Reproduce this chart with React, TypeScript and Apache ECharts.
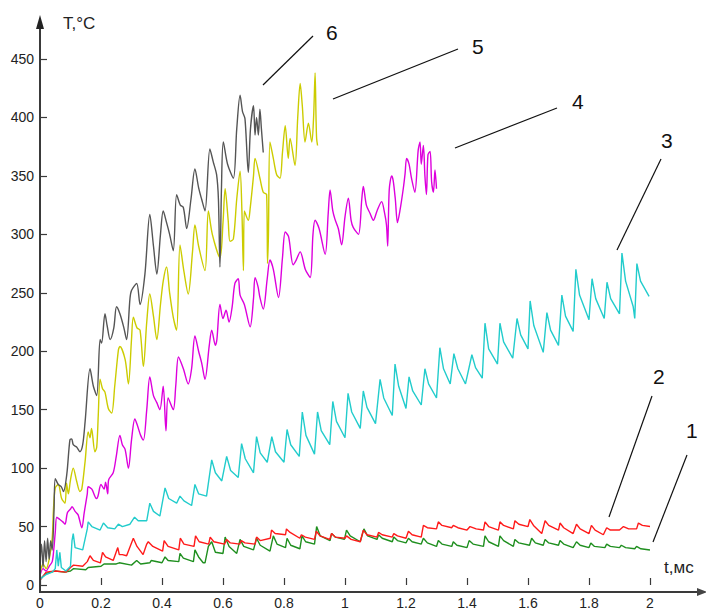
import React, { useEffect, useRef } from "react";
import * as echarts from "echarts";

// t (ms), T (°C)
const curve1Green: number[][] = [
  [0, 5], [0.02, 10], [0.05, 12], [0.08, 11], [0.1, 12], [0.11, 14], [0.15, 13], [0.158, 15], [0.2, 16], [0.21, 18],
  [0.25, 18], [0.26, 19], [0.3, 17], [0.317, 21], [0.33, 18], [0.36, 19], [0.365, 21], [0.4, 19], [0.41, 24], [0.42, 21], [0.455, 20],
  [0.459, 27], [0.47, 23], [0.503, 20],
  [0.508, 30], [0.52, 24], [0.535, 19], [0.541, 19],
  [0.552, 33], [0.563, 37], [0.575, 28], [0.6, 27],
  [0.607, 41], [0.62, 33], [0.645, 27],
  [0.656, 39], [0.668, 33], [0.7, 30],
  [0.71, 40], [0.722, 34], [0.754, 29],
  [0.765, 42], [0.777, 35], [0.805, 32],
  [0.81, 40], [0.822, 34], [0.852, 31],
  [0.859, 42], [0.871, 37], [0.9, 35],
  [0.907, 50], [0.919, 42], [0.951, 38],
  [0.956, 44], [0.968, 41], [0.998, 39],
  [1.005, 47], [1.017, 42], [1.05, 37],
  [1.062, 48], [1.074, 42], [1.105, 39],
  [1.11, 43], [1.122, 40], [1.155, 37],
  [1.16, 41], [1.172, 38], [1.2, 36],
  [1.208, 40], [1.22, 37], [1.25, 35],
  [1.257, 40], [1.27, 36], [1.3, 33],
  [1.306, 38], [1.318, 35], [1.35, 33],
  [1.355, 37], [1.367, 34], [1.4, 32],
  [1.407, 38], [1.42, 35], [1.454, 33],
  [1.459, 42], [1.471, 37], [1.503, 33],
  [1.508, 42], [1.52, 38], [1.552, 33],
  [1.557, 39], [1.57, 36], [1.605, 34],
  [1.612, 40], [1.624, 36], [1.65, 34],
  [1.656, 39], [1.668, 36], [1.7, 34],
  [1.705, 38], [1.717, 35], [1.748, 32],
  [1.759, 37], [1.771, 34], [1.8, 32],
  [1.806, 36], [1.818, 33], [1.852, 32],
  [1.858, 35], [1.87, 33], [1.9, 32],
  [1.906, 34], [1.92, 32], [1.95, 31],
  [1.956, 33], [1.97, 31], [2.0, 30],
];

const curve2Red: number[][] = [
  [0, 4], [0.02, 11], [0.05, 12], [0.085, 11], [0.1, 15], [0.11, 17], [0.14, 16], [0.155, 20], [0.164, 25], [0.175, 21], [0.198, 19],
  [0.205, 28], [0.215, 24], [0.24, 21],
  [0.255, 32], [0.26, 26], [0.27, 26], [0.284, 25],
  [0.3, 36], [0.306, 40], [0.318, 33], [0.338, 26],
  [0.35, 35], [0.355, 37], [0.37, 33], [0.402, 29],
  [0.407, 38], [0.42, 33], [0.455, 30],
  [0.46, 40], [0.472, 35], [0.505, 33],
  [0.51, 42], [0.522, 37], [0.553, 35],
  [0.558, 41], [0.57, 37], [0.605, 35],
  [0.612, 39], [0.624, 36], [0.655, 35],
  [0.66, 38], [0.672, 36], [0.705, 35],
  [0.71, 41], [0.722, 38], [0.755, 40],
  [0.759, 47], [0.771, 44], [0.805, 43],
  [0.808, 48], [0.82, 45], [0.852, 40],
  [0.857, 43], [0.87, 41], [0.9, 39],
  [0.906, 46], [0.918, 42], [0.95, 39],
  [0.956, 44], [0.968, 41], [1.0, 40],
  [1.005, 42], [1.02, 39], [1.05, 37],
  [1.06, 47], [1.072, 43], [1.105, 41],
  [1.11, 45], [1.122, 43], [1.155, 41],
  [1.16, 44], [1.172, 42], [1.2, 40],
  [1.208, 46], [1.22, 43], [1.25, 41],
  [1.257, 51], [1.27, 49], [1.3, 48],
  [1.306, 54], [1.318, 51], [1.35, 49],
  [1.355, 51], [1.37, 49], [1.4, 47],
  [1.41, 50], [1.43, 48], [1.454, 47],
  [1.459, 54], [1.471, 50], [1.503, 47],
  [1.508, 54], [1.52, 51], [1.552, 48],
  [1.557, 55], [1.57, 52], [1.6, 50],
  [1.606, 56], [1.618, 51], [1.645, 44],
  [1.656, 55], [1.668, 51], [1.7, 47],
  [1.705, 53], [1.717, 49], [1.748, 44],
  [1.759, 52], [1.771, 48], [1.8, 44],
  [1.808, 51], [1.82, 47], [1.847, 43],
  [1.858, 49], [1.87, 47], [1.9, 47],
  [1.913, 50], [1.93, 48], [1.956, 48],
  [1.962, 53], [1.975, 51], [2.0, 50],
];

const curve3Cyan: number[][] = [
  [0, 5], [0.02, 9], [0.04, 11], [0.05, 14], [0.055, 30], [0.06, 16], [0.065, 28], [0.07, 15], [0.085, 12], [0.1, 16],
  [0.105, 38], [0.109, 44], [0.115, 32], [0.14, 30],
  [0.155, 48], [0.158, 54], [0.17, 50], [0.197, 47],
  [0.208, 53], [0.222, 49], [0.245, 48],
  [0.257, 52], [0.27, 50], [0.295, 52],
  [0.31, 58], [0.322, 55], [0.35, 55],
  [0.36, 70], [0.372, 63], [0.393, 59],
  [0.41, 83], [0.422, 74], [0.448, 70],
  [0.459, 76], [0.472, 72], [0.497, 68],
  [0.508, 86], [0.52, 78], [0.546, 76],
  [0.563, 107], [0.575, 96], [0.596, 89],
  [0.612, 110], [0.625, 98], [0.65, 92],
  [0.661, 121], [0.673, 108], [0.7, 96],
  [0.71, 127], [0.722, 113], [0.745, 105],
  [0.76, 127], [0.772, 114], [0.8, 105],
  [0.81, 133], [0.822, 120], [0.85, 110],
  [0.86, 148], [0.872, 128], [0.9, 112],
  [0.91, 148], [0.922, 132], [0.95, 120],
  [0.96, 157], [0.972, 140], [1.0, 126],
  [1.01, 164], [1.022, 148], [1.05, 134],
  [1.06, 166], [1.072, 152], [1.1, 138],
  [1.115, 176], [1.127, 160], [1.155, 145],
  [1.164, 189], [1.176, 170], [1.2, 151],
  [1.21, 178], [1.222, 166], [1.25, 154],
  [1.262, 185], [1.274, 172], [1.3, 160],
  [1.311, 203], [1.323, 185], [1.345, 172],
  [1.357, 198], [1.37, 185], [1.395, 172],
  [1.416, 197], [1.428, 186], [1.45, 177],
  [1.459, 224], [1.471, 202], [1.5, 189],
  [1.508, 224], [1.52, 208], [1.55, 194],
  [1.564, 228], [1.576, 214], [1.6, 202],
  [1.607, 243], [1.619, 222], [1.65, 199],
  [1.662, 233], [1.674, 218], [1.7, 205],
  [1.711, 248], [1.723, 230], [1.748, 217],
  [1.757, 270], [1.769, 248], [1.8, 227],
  [1.81, 262], [1.822, 245], [1.85, 228],
  [1.859, 259], [1.871, 245], [1.9, 232],
  [1.908, 284], [1.92, 260], [1.945, 238], [1.95, 228],
  [1.957, 275], [1.969, 260], [1.997, 247],
];

const curve4Magenta: number[][] = [
  [0, 8], [0.01, 14], [0.02, 12], [0.03, 16], [0.04, 20], [0.045, 30], [0.05, 45], [0.055, 58], [0.065, 56], [0.075, 54],
  [0.082, 52], [0.09, 62], [0.1, 65], [0.105, 67], [0.115, 63], [0.125, 60], [0.137, 49], [0.145, 62], [0.155, 78],
  [0.158, 84], [0.17, 82], [0.185, 74], [0.19, 76], [0.2, 86], [0.21, 82], [0.215, 88], [0.222, 78], [0.225, 90],
  [0.24, 96], [0.25, 110], [0.262, 128], [0.27, 120], [0.279, 116], [0.29, 100], [0.3, 124], [0.311, 142], [0.32, 136],
  [0.33, 128], [0.339, 124], [0.35, 150], [0.36, 178], [0.372, 162], [0.383, 156], [0.393, 150], [0.404, 170],
  [0.413, 132], [0.42, 160], [0.437, 150], [0.445, 170], [0.454, 195], [0.47, 185], [0.486, 172], [0.497, 185],
  [0.508, 213], [0.52, 200], [0.53, 190], [0.541, 176], [0.555, 205], [0.563, 218], [0.575, 205], [0.58, 210],
  [0.59, 240], [0.6, 228], [0.61, 235], [0.62, 225], [0.63, 238], [0.639, 258], [0.65, 262], [0.656, 248],
  [0.67, 240], [0.689, 221], [0.7, 245], [0.705, 263], [0.715, 255], [0.721, 246], [0.732, 236], [0.745, 262],
  [0.754, 278], [0.765, 270], [0.782, 246], [0.795, 280], [0.804, 302], [0.815, 298], [0.83, 274], [0.84, 278],
  [0.853, 285], [0.87, 270], [0.886, 263], [0.895, 300], [0.902, 312], [0.915, 305], [0.935, 283], [0.945, 318],
  [0.951, 338], [0.96, 320], [0.967, 313], [0.978, 305], [0.989, 291], [1.0, 315], [1.011, 331], [1.02, 312],
  [1.027, 306], [1.044, 300], [1.055, 330], [1.06, 341], [1.07, 325], [1.082, 318], [1.093, 312], [1.105, 320],
  [1.12, 328], [1.13, 318], [1.136, 308], [1.14, 290], [1.145, 338], [1.153, 350], [1.158, 346], [1.165, 330],
  [1.172, 310], [1.18, 320], [1.191, 339], [1.197, 352], [1.202, 365], [1.21, 360], [1.218, 348], [1.229, 336],
  [1.24, 372], [1.246, 379], [1.25, 360], [1.257, 376], [1.262, 350], [1.267, 334], [1.272, 368], [1.279, 371],
  [1.284, 345], [1.29, 336], [1.295, 355], [1.3, 339],
];

const curve5Yellow: number[][] = [
  [0, 10], [0.01, 18], [0.02, 14], [0.03, 22], [0.04, 40], [0.044, 64], [0.05, 83], [0.06, 86], [0.071, 74],
  [0.082, 70], [0.087, 87], [0.093, 78], [0.1, 90], [0.109, 100], [0.12, 89], [0.131, 80], [0.137, 82],
  [0.148, 106], [0.158, 131], [0.164, 126], [0.169, 134], [0.18, 114], [0.186, 118], [0.191, 145], [0.197, 176],
  [0.205, 168], [0.213, 165], [0.224, 151], [0.235, 147], [0.245, 170], [0.257, 201], [0.262, 204], [0.279, 193],
  [0.29, 172], [0.3, 210], [0.306, 229], [0.318, 220], [0.328, 218], [0.339, 187], [0.35, 225], [0.36, 249],
  [0.372, 230], [0.383, 210], [0.395, 240], [0.404, 260], [0.415, 272], [0.425, 250], [0.437, 229], [0.448, 218],
  [0.459, 291], [0.472, 268], [0.486, 249], [0.5, 285], [0.508, 308], [0.52, 290], [0.541, 269], [0.552, 320],
  [0.565, 300], [0.59, 280], [0.6, 310], [0.607, 339], [0.617, 312], [0.623, 294], [0.634, 296], [0.645, 330],
  [0.656, 354], [0.662, 320], [0.667, 269], [0.67, 320], [0.683, 312], [0.689, 322], [0.7, 350], [0.705, 365],
  [0.721, 348], [0.732, 336], [0.743, 334], [0.746, 275], [0.749, 300], [0.754, 379], [0.765, 365], [0.776, 351],
  [0.787, 348], [0.795, 370], [0.804, 393], [0.814, 365], [0.82, 382], [0.836, 359], [0.845, 400], [0.853, 429],
  [0.86, 410], [0.869, 379], [0.88, 395], [0.891, 379], [0.897, 400], [0.902, 438], [0.905, 400], [0.907, 382],
  [0.91, 376],
];

const curve6Gray: number[][] = [
  [0, 19], [0.005, 35], [0.01, 15], [0.015, 38], [0.02, 20], [0.025, 40], [0.03, 22], [0.035, 38], [0.04, 30],
  [0.046, 64], [0.05, 91], [0.06, 86], [0.07, 84], [0.077, 80], [0.088, 95], [0.098, 124], [0.104, 125],
  [0.109, 120], [0.12, 118], [0.131, 114], [0.14, 120], [0.148, 140], [0.164, 185], [0.175, 170], [0.186, 162],
  [0.197, 210], [0.202, 207], [0.213, 232], [0.22, 222], [0.23, 210], [0.242, 220], [0.251, 238], [0.262, 232],
  [0.275, 220], [0.284, 210], [0.295, 245], [0.3, 252], [0.317, 258], [0.328, 240], [0.344, 266], [0.36, 317],
  [0.372, 290], [0.383, 266], [0.395, 300], [0.404, 320], [0.415, 310], [0.425, 300], [0.437, 286], [0.448, 334],
  [0.46, 325], [0.47, 323], [0.481, 305], [0.495, 330], [0.508, 356], [0.52, 340], [0.53, 330], [0.541, 320],
  [0.557, 373], [0.568, 362], [0.579, 351], [0.585, 330], [0.59, 272], [0.595, 340], [0.601, 379], [0.615, 360],
  [0.634, 348], [0.645, 390], [0.656, 419], [0.664, 405], [0.672, 399], [0.683, 353], [0.69, 390], [0.7, 410],
  [0.705, 385], [0.71, 400], [0.716, 385], [0.721, 407], [0.726, 390], [0.732, 370],
];

const curveNames = ["1", "2", "3", "4", "5", "6"];
const curveColors = ["#1f8f1f", "#ff1a1a", "#22cccc", "#dd00dd", "#cccc00", "#555555"];
const yTitle = "T,°C";
const xTitle = "t,мс";

const FONT = "'Liberation Sans', Arial, sans-serif";

export default function App() {
  const ref = useRef<HTMLDivElement>(null);
  useEffect(() => {
    if (!ref.current) return;
    const chart = echarts.init(ref.current, undefined, { renderer: "svg" });
    const curves = [curve1Green, curve2Red, curve3Cyan, curve4Magenta, curve5Yellow, curve6Gray];
    const axisColor = "#3a3a3a";
    const labelLines = [
      { t: "6", lx: 326, ly: 22, a: [263, 85], b: [313, 36] },
      { t: "5", lx: 472, ly: 36, a: [333, 99], b: [458, 49] },
      { t: "4", lx: 572, ly: 91, a: [455, 148], b: [557, 108] },
      { t: "3", lx: 661, ly: 130, a: [617, 250], b: [661, 159] },
      { t: "2", lx: 653, ly: 366, a: [609, 517], b: [652, 396] },
      { t: "1", lx: 686, ly: 420, a: [653, 542], b: [687, 455] },
    ];
    chart.setOption({
      animation: false,
      backgroundColor: "#ffffff",
      grid: { left: 40, right: 56, top: 59, bottom: 18, containLabel: false },
      xAxis: {
        type: "value",
        min: 0,
        max: 2,
        interval: 0.2,
        axisLine: { show: false },
        axisTick: { show: true, inside: true, length: 7, lineStyle: { color: axisColor, width: 1.2 } },
        axisLabel: { margin: 11, fontSize: 14, color: "#222", fontFamily: FONT },
        splitLine: { show: false },
      },
      yAxis: {
        type: "value",
        min: 0,
        max: 450,
        interval: 50,
        axisLine: { show: false },
        axisTick: { show: true, inside: true, length: 7, lineStyle: { color: axisColor, width: 1.2 } },
        axisLabel: { margin: 6, fontSize: 14, color: "#222", fontFamily: FONT },
        splitLine: { show: false },
      },
      series: curves.map((d, i) => ({
        name: curveNames[i],
        type: "line",
        data: d,
        showSymbol: false,
        symbol: "none",
        smooth: i >= 3 ? 0.3 : false,
        lineStyle: { color: curveColors[i], width: 1.4 },
        z: 2 + i,
      })),
      graphic: [
        { type: "line", shape: { x1: 40, y1: 593, x2: 40, y2: 24 }, style: { stroke: axisColor, lineWidth: 2 }, z: 20 },
        { type: "polygon", shape: { points: [[40, 15], [36, 29], [44, 29]] }, style: { fill: "#222" }, z: 20 },
        { type: "line", shape: { x1: 39, y1: 592, x2: 702, y2: 592 }, style: { stroke: axisColor, lineWidth: 2 }, z: 20 },
        { type: "polygon", shape: { points: [[707, 592], [697, 588], [697, 596]] }, style: { fill: "#444" }, z: 20 },
        { type: "text", x: 63, y: 15, style: { text: yTitle, fontSize: 17, fill: "#222", fontFamily: FONT }, z: 20 },
        { type: "text", x: 664, y: 559, style: { text: xTitle, fontSize: 17, fill: "#222", fontFamily: FONT }, z: 20 },
        ...labelLines.flatMap((l) => [
          { type: "line", shape: { x1: l.a[0], y1: l.a[1], x2: l.b[0], y2: l.b[1] }, style: { stroke: "#111", lineWidth: 1.2 }, z: 20 },
          { type: "text", x: l.lx, y: l.ly, style: { text: l.t, fontSize: 21, fill: "#111", fontFamily: FONT }, z: 20 },
        ]),
      ],
    });
    return () => chart.dispose();
  }, []);
  return (
    <div
      ref={ref}
      style={{ position: "fixed", left: 0, top: 0, width: 706, height: 610, background: "#fff" }}
    />
  );
}
